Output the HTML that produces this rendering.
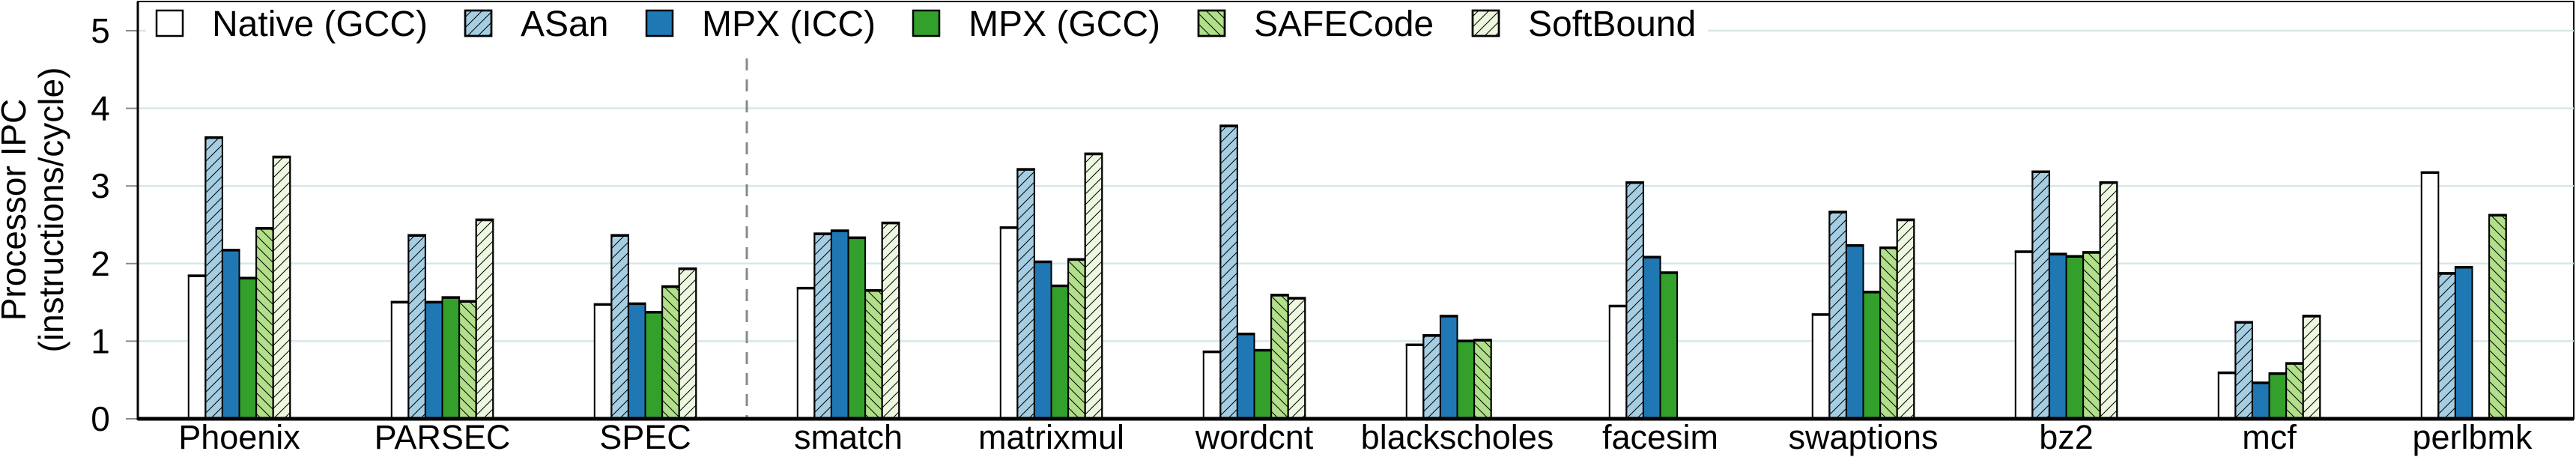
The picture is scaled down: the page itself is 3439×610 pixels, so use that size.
<!DOCTYPE html>
<html><head><meta charset="utf-8"><style>
html,body{margin:0;padding:0;background:#fff;}
svg{display:block;font-family:"Liberation Sans",Arial,sans-serif;}
</style></head><body>
<svg id="chart" width="3439" height="610" viewBox="0 0 3439 610" xmlns="http://www.w3.org/2000/svg">
<defs>
<pattern id="hf" patternUnits="userSpaceOnUse" width="14" height="14"><path d="M0,14 L14,0 M-3,3 L3,-3 M11,17 L17,11" stroke="#000" stroke-width="1"/></pattern>
<pattern id="hb" patternUnits="userSpaceOnUse" width="14" height="14"><path d="M0,0 L14,14 M-3,11 L3,17 M11,-3 L17,3" stroke="#000" stroke-width="1"/></pattern>
</defs>
<g id="grid"></g>
<g id="bars"></g>
<g id="axes"></g>
<g id="legend"></g>
<text transform="translate(34,280) rotate(-90)" text-anchor="middle" font-size="46">Processor IPC</text>
<text transform="translate(84,280) rotate(-90)" text-anchor="middle" font-size="46">(instructions/cycle)</text>
</svg>
<script>
const categories=["Phoenix","PARSEC","SPEC","smatch","matrixmul","wordcnt","blackscholes","facesim","swaptions","bz2","mcf","perlbmk"];
const seriesNames=["Native (GCC)","ASan","MPX (ICC)","MPX (GCC)","SAFECode","SoftBound"];
const nativeGCC=[1.85,1.51,1.48,1.69,2.47,0.87,0.96,1.46,1.35,2.16,0.60,3.18];
const asan=[3.63,2.37,2.37,2.39,3.22,3.78,1.08,3.05,2.67,3.19,1.25,1.88];
const mpxICC=[2.18,1.51,1.49,2.43,2.03,1.10,1.33,2.09,2.24,2.13,0.47,1.96];
const mpxGCC=[1.82,1.57,1.38,2.34,1.72,0.89,1.01,1.89,1.64,2.10,0.59,null];
const safeCode=[2.46,1.52,1.71,1.66,2.06,1.60,1.02,null,2.21,2.15,0.72,2.63];
const softBound=[3.38,2.57,1.94,2.53,3.42,1.56,null,null,2.57,3.05,1.33,null];
const yTicks=[0,1,2,3,4,5];
const series=[nativeGCC,asan,mpxICC,mpxGCC,safeCode,softBound];
const fills=["#ffffff","#a6cee3","#1f78b4","#33a02c","#b2df8a","#eef7e0"];
const hatch=[null,"hf",null,null,"hb","hf"];
const NS="http://www.w3.org/2000/svg";
const L=184,R=3436,T=2,B=559;
const unit=(B-41)/5;
const band=(R-L)/categories.length;
const bw=band*0.5/6;
function y(v){return B-v*unit;}
function xc(i){return L+band*(i+0.5);}
function mk(tag,attrs,parent){const e=document.createElementNS(NS,tag);for(const k in attrs)e.setAttribute(k,attrs[k]);parent.appendChild(e);return e;}
const grid=document.getElementById('grid'),bars=document.getElementById('bars'),axes=document.getElementById('axes'),legend=document.getElementById('legend');
mk('rect',{x:L,y:T,width:R-L,height:B-T,fill:'#fff',stroke:'#000','stroke-width':2},grid);
yTicks.forEach(t=>{
 if(t>0){const g=mk('line',{x1:L,x2:R,y1:y(t),y2:y(t),stroke:'#d6e8e8','stroke-width':2.5},grid);
 
 }
 const tk=mk('line',{x1:L-16,x2:L,y1:y(t),y2:y(t),stroke:'#888','stroke-width':2},axes);
 
 
 const tx=mk('text',{x:L-50,y:y(t)+16,'text-anchor':'middle','font-size':46},axes);
 tx.textContent=t;
 
 
});
const dl=mk('line',{x1:L+band*3,x2:L+band*3,y1:78,y2:B,stroke:'#888','stroke-width':3,'stroke-dasharray':'16,12'},grid);


categories.forEach((c,i)=>{
 const x0=xc(i)-3*bw;
 series.forEach((s,j)=>{
  const v=s[i]; if(v==null) return;
  const r=mk('rect',{x:x0+j*bw,y:y(v),width:bw,height:B-y(v),fill:fills[j],stroke:'#000','stroke-width':2},bars);
  
  
  if(hatch[j]) mk('rect',{x:x0+j*bw,y:y(v),width:bw,height:B-y(v),fill:'url(#'+hatch[j]+')',stroke:'#000','stroke-width':2},bars);
  mk('line',{x1:x0+j*bw-1,x2:x0+(j+1)*bw+1,y1:y(v)+1,y2:y(v)+1,stroke:'#000','stroke-width':3},bars);
 });
 const t=mk('text',{x:xc(i),y:599,'text-anchor':'middle','font-size':45},axes);
 t.textContent=c;
 
 
});
mk('line',{x1:L,x2:R,y1:B,y2:B,stroke:'#000','stroke-width':5},axes);
mk('line',{x1:L,x2:L,y1:T,y2:B+2,stroke:'#000','stroke-width':3},axes);
mk('rect',{x:195,y:6,width:2085,height:52,fill:'#fff'},legend);
const lx=[209,621,863,1219,1600,1966];
seriesNames.forEach((n,j)=>{
 const b=mk('rect',{x:lx[j],y:14,width:35,height:34,fill:fills[j],stroke:'#000','stroke-width':2.5},legend);
 
 
 if(hatch[j]) mk('rect',{x:lx[j],y:14,width:35,height:34,fill:'url(#'+hatch[j]+')',stroke:'#000','stroke-width':2.5},legend);
 const t=mk('text',{x:lx[j]+74,y:48,'font-size':48},legend);
 t.textContent=n;
 
 
});
</script>
</body></html>
